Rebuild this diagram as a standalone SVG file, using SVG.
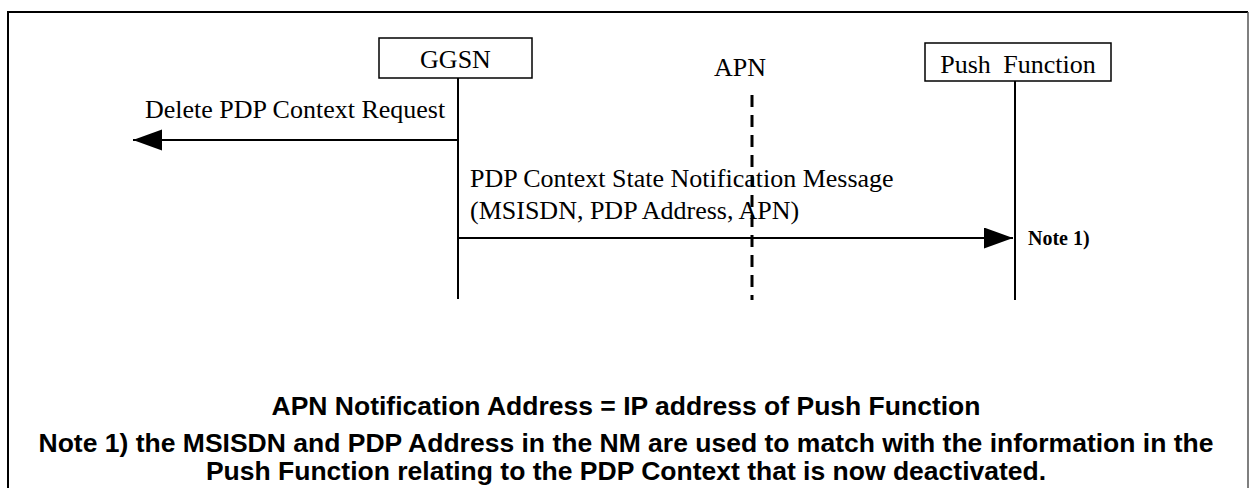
<svg xmlns="http://www.w3.org/2000/svg" width="1253" height="488" viewBox="0 0 1253 488">
  <style>
    .lbl { font-family: "Liberation Serif", "Times New Roman", serif; font-size: 26px; fill: #000; }
    .note { font-family: "Liberation Serif", "Times New Roman", serif; font-size: 20px; font-weight: bold; fill: #000; }
    .foot { font-family: "Liberation Sans", Arial, sans-serif; font-size: 26.5px; font-weight: bold; fill: #000; text-anchor: middle; }
    .box { fill: #fff; stroke: #000; stroke-width: 1.5; }
    .life { stroke: #000; stroke-width: 2; fill: none; }
    .msg { stroke: #000; stroke-width: 2; fill: none; marker-end: url(#ah); }
  </style>
  <defs>
    <marker id="ah" markerUnits="userSpaceOnUse" markerWidth="30" markerHeight="22" refX="29" refY="10.5" orient="auto">
      <path d="M0,0 L29,10.5 L0,21 Z" fill="#000"/>
    </marker>
  </defs>
  <rect x="0" y="0" width="1253" height="488" fill="#fff"/>
  <g id="frame">
    <path d="M8,488 V12 H1248" fill="none" stroke="#000" stroke-width="2"/>
    <line x1="1248" y1="12" x2="1248" y2="488" stroke="#555" stroke-width="1.5"/>
  </g>
  <g id="ggsn">
    <rect class="box" x="379" y="38" width="153" height="40"/>
    <text class="lbl" x="455.5" y="68" text-anchor="middle">GGSN</text>
    <line class="life" x1="458" y1="78" x2="458" y2="299"/>
  </g>
  <g id="apn">
    <text class="lbl" x="740" y="76" text-anchor="middle">APN</text>
    <line x1="752" y1="95" x2="752" y2="300" stroke="#000" stroke-width="3" stroke-dasharray="12 8"/>
  </g>
  <g id="push">
    <rect class="box" x="925" y="43" width="186" height="38"/>
    <text class="lbl" x="1018" y="73" text-anchor="middle" word-spacing="6">Push Function</text>
    <line class="life" x1="1015" y1="81" x2="1015" y2="300"/>
  </g>
  <g id="connectors">
    <line class="msg" x1="458" y1="140" x2="133" y2="140"/>
    <text class="lbl" x="145" y="118">Delete PDP Context Request</text>
    <line class="msg" x1="458" y1="238" x2="1013" y2="238"/>
    <text class="lbl" x="470" y="187">PDP Context State Notification Message</text>
    <text class="lbl" x="470" y="219">(MSISDN, PDP Address, APN)</text>
    <text class="note" x="1028" y="245">Note 1)</text>
  </g>
  <g id="footer">
    <text class="foot" x="626" y="415">APN Notification Address = IP address of Push Function</text>
    <text class="foot" x="626" y="452">Note 1) the MSISDN and PDP Address in the NM are used to match with the information in the</text>
    <text class="foot" x="626" y="480">Push Function relating to the PDP Context that is now deactivated.</text>
  </g>
</svg>
